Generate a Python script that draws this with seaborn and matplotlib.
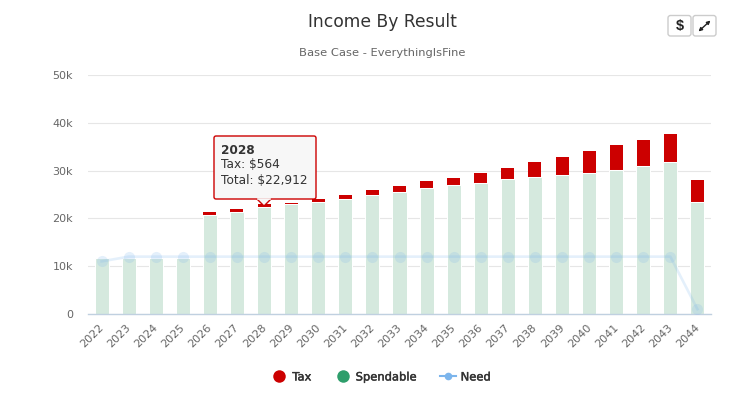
import matplotlib
matplotlib.use('Agg')
import matplotlib.pyplot as plt
import matplotlib.patheffects as pe
from matplotlib.lines import Line2D
from matplotlib.patches import FancyBboxPatch, Polygon
from matplotlib.transforms import ScaledTranslation
import seaborn as sns

years = [str(y) for y in range(2022, 2045)]
spendable = [11700, 11700, 11700, 11700, 20700, 21400, 22348, 22950, 23500, 24150,
             24900, 25600, 26300, 27000, 27500, 28200, 28600, 29000, 29600, 30200,
             31000, 31900, 23400]
tax = [0, 0, 0, 0, 600, 600, 564, 350, 600, 750,
      1000, 1100, 1500, 1500, 2000, 2300, 3200, 3800, 4500, 5200,
      5400, 5800, 4600]
need = [11000, 12000, 12000, 12000, 12000, 12000, 12000, 12000, 12000, 12000,
        12000, 12000, 12000, 12000, 12000, 12000, 12000, 12000, 12000, 12000,
        12000, 12000, 1000]
yticks = [0, 10000, 20000, 30000, 40000, 50000]
ylabels = ['0', '10k', '20k', '30k', '40k', '50k']

W, H = 743, 404
fig = plt.figure(figsize=(W / 100, H / 100), dpi=100)
ax = fig.add_axes([88 / W, 1 - 314 / H, (711 - 88) / W, (314 - 75) / H])

# red first, the white edge of the green bars then gives the thin gap between them
sns.barplot(x=years, y=tax, bottom=spendable, color='#CC0000', saturation=1, width=0.48,
            linewidth=0, ax=ax, zorder=2)
sns.barplot(x=years, y=spendable, color='#D5E9DE', saturation=1, width=0.517,
            edgecolor='white', linewidth=0.75, ax=ax, zorder=2)
sns.lineplot(x=years, y=need, color='#7CB5EC', alpha=0.2, linewidth=1.9, marker='o',
             markersize=8, markeredgewidth=0, ax=ax, zorder=3)

ax.set_xlim(-0.5, 22.5)
ax.set_ylim(0, 50000)
ax.set_yticks(yticks, ylabels)
ax.grid(axis='y', color='#E6E6E6', linewidth=0.8)
ax.set_axisbelow(True)
for side in ['top', 'left', 'right']:
    ax.spines[side].set_visible(False)
ax.spines['bottom'].set_color('#C0D0E0')
ax.spines['bottom'].set_linewidth(1)
ax.tick_params(axis='both', length=0, labelsize=8, labelcolor='#666666')
ax.tick_params(axis='y', pad=10.8)
ax.tick_params(axis='x', pad=6)
shift = ScaledTranslation(-3 / 100, 0, fig.dpi_scale_trans)
for lab in ax.get_xticklabels():
    lab.set_rotation(45)
    lab.set_ha('right')
    lab.set_rotation_mode('anchor')
    lab.set_transform(lab.get_transform() + shift)
ax.set_xlabel('')

fig.text(382 / W, 1 - 22 / H, 'Income By Result', ha='center', va='center',
         fontsize=12.3, color='#333333')
fig.text(382 / W, 1 - 53 / H, 'Base Case - EverythingIsFine', ha='center', va='center',
         fontsize=8.25, color='#666666')

handles = [
    Line2D([], [], linestyle='none', marker='o', markersize=9, color='#CC0000', markeredgewidth=0),
    Line2D([], [], linestyle='none', marker='o', markersize=9, color='#2E9E6B', markeredgewidth=0),
    Line2D([], [], color='#7CB5EC', linewidth=1.5, marker='o', markersize=5.5, markeredgewidth=0),
]
leg = fig.legend(handles, ['Tax', 'Spendable', 'Need'], loc='center', bbox_to_anchor=(381 / W, 1 - 377 / H),
                 ncol=3, frameon=False, handlelength=1.4, handletextpad=0.43, columnspacing=2.0,
                 prop={'size': 8.3}, labelcolor='#333333')
for t in leg.get_texts():
    t.set_path_effects([pe.withStroke(linewidth=0.3, foreground='#333333')])

# pixel overlay for the tooltip and the two buttons
over = fig.add_axes([0, 0, 1, 1], facecolor='none')
over.set_xlim(0, W)
over.set_ylim(H, 0)
over.axis('off')

over.add_patch(FancyBboxPatch((214, 136), 102, 63, boxstyle='round,pad=0,rounding_size=2',
                              fc='#F7F7F7', ec='#CC0000', lw=1))
over.add_patch(Polygon([(257, 199), (264, 206), (271, 199)], closed=False, fc='#F7F7F7',
                       ec='#CC0000', lw=1))
over.plot([258, 270], [199, 199], color='#F7F7F7', lw=1.2)
over.text(221, 150, '2028', fontsize=8.7, fontweight='bold', color='#333333', va='center')
over.text(221, 165, 'Tax: $564', fontsize=8.7, color='#333333', va='center')
over.text(221, 180.5, 'Total: $22,912', fontsize=8.7, color='#333333', va='center')

for x0, x1 in [(668, 691), (693, 716)]:
    over.add_patch(FancyBboxPatch((x0, 15.5), x1 - x0, 20.5, boxstyle='round,pad=0,rounding_size=2.5',
                                  fc='white', ec='#CCCCCC', lw=1))
over.text(680, 26, '$', fontsize=10.5, fontfamily='Liberation Sans', fontweight='bold',
          color='#222222', ha='center', va='center')
over.annotate('', xy=(710.5, 20.5), xytext=(698.5, 31.5),
              arrowprops=dict(arrowstyle='<|-|>', color='#222222', lw=1, mutation_scale=5,
                              shrinkA=0, shrinkB=0))

fig.savefig('out.png', dpi=100, facecolor='white')
